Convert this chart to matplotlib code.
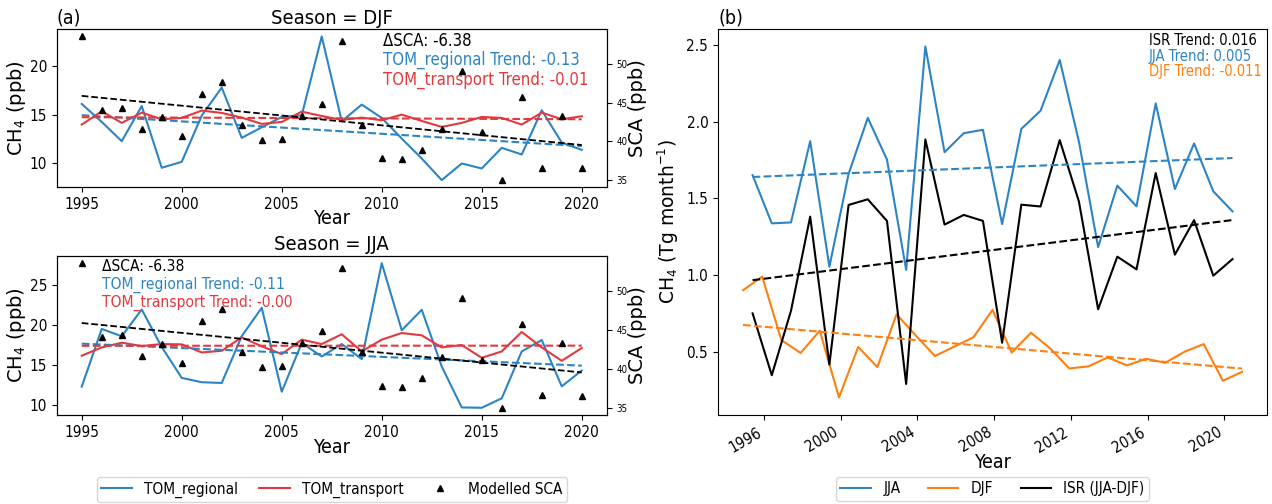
import numpy as np
import matplotlib.pyplot as plt

plt.rcParams['font.family'] = ['DejaVu Sans']
plt.rcParams['font.stretch'] = 'condensed'

# ---- data ----
years = np.arange(1995, 2021)

# panel (a), DJF
djf_regional = [16.09, 14.25, 12.28, 15.88, 9.56, 10.17, 14.9, 17.76, 12.62, 13.7,
                14.76, 14.93, 22.99, 14.32, 16.02, 14.66, 12.55, 10.51, 8.30, 10.0,
                9.49, 11.6, 10.92, 15.44, 12.14, 11.39]
djf_transport = [13.98, 15.34, 14.15, 15.2, 14.52, 14.66, 15.41, 15.17, 14.69, 14.05,
                 14.25, 15.3, 14.86, 14.45, 14.69, 14.42, 15.0, 14.35, 13.74, 14.15,
                 14.76, 14.66, 13.98, 15.2, 14.52, 14.83]
# panel (a), JJA
jja_regional = [12.29, 19.5, 18.58, 21.93, 17.24, 13.38, 12.84, 12.75, 18.6, 22.14,
                11.66, 17.74, 16.06, 17.61, 15.73, 27.71, 19.33, 21.89, 14.8, 9.69,
                9.65, 10.83, 16.69, 18.11, 12.33, 14.3]
jja_transport = [16.15, 17.19, 17.78, 17.36, 17.61, 17.57, 16.56, 16.77, 18.45, 17.32,
                 16.36, 18.16, 17.61, 18.83, 16.69, 18.16, 18.99, 18.7, 17.19, 17.49,
                 15.89, 16.69, 19.12, 17.19, 15.52, 17.11]
# modelled SCA (same for both seasons)
sca = [53.53, 44.05, 44.31, 41.6, 43.15, 40.69, 46.08, 47.67, 42.11, 40.22,
       40.34, 43.28, 44.78, 52.97, 42.11, 37.8, 37.67, 38.84, 41.55, 49.09,
       41.16, 35.0, 45.73, 36.6, 43.28, 36.51]

# panel (b), Tg month-1
jja_flux = [1.651, 1.337, 1.343, 1.873, 1.054, 1.659, 2.025, 1.753, 1.034, 2.49,
            1.801, 1.925, 1.947, 1.332, 1.953, 2.071, 2.402, 1.87, 1.182, 1.583,
            1.448, 2.119, 1.561, 1.858, 1.546, 1.415]
# DJF seasons start in December of the previous year (Dec 1994 ... Dec 2020)
djf_flux = [0.901, 0.990, 0.576, 0.492, 0.637, 0.202, 0.531, 0.400, 0.744, 0.606,
            0.472, 0.533, 0.594, 0.773, 0.494, 0.624, 0.522, 0.391, 0.405, 0.463,
            0.411, 0.454, 0.428, 0.500, 0.550, 0.311, 0.369]
djf_years = np.arange(1995, 2022)

blue = '#2c84c4'
red = '#e2393e'
orange = '#ff7f0e'


def trend(x, y):
    p = np.polyfit(x, y, 1)
    return np.polyval(p, x)


fig = plt.figure(figsize=(12.72, 5.04), dpi=100)
ax_djf = fig.add_axes([0.0446, 0.6284, 0.4324, 0.3135])
ax_jja = fig.add_axes([0.0446, 0.1766, 0.4324, 0.3155])
ax_b = fig.add_axes([0.5645, 0.1766, 0.4316, 0.7659])


def season_panel(ax, regional, transport, season, txt_x, txt_y, txt, xpad, tsize):
    ax.plot(years, regional, color=blue, lw=1.5, label='TOM_regional')
    ax.plot(years, transport, color=red, lw=1.5, label='TOM_transport')
    ax.plot(years, trend(years, regional), '--', color=blue, lw=1.5)
    ax.plot(years, trend(years, transport), '--', color=red, lw=1.5)
    ax2 = ax.twinx()
    ax2.plot(years, sca, '^', color='k', ms=4.5, ls='none', label='Modelled SCA')
    ax2.plot(years, trend(years, sca), '--', color='k', lw=1.3)
    ax.set_xticks([1995, 2000, 2005, 2010, 2015, 2020])
    ax.tick_params(labelsize=11)
    ax2.tick_params(labelsize=7)
    ax.set_xlabel('Year', fontsize=14, labelpad=xpad)
    ax.set_ylabel('CH$_4$ (ppb)', fontsize=14, fontstretch='normal', labelpad=1)
    ax2.set_ylabel('SCA (ppb)', fontsize=14, fontstretch='normal', labelpad=0)
    ax.set_title('Season = ' + season, fontsize=14.5, pad=4)
    for (s, c), y in zip(zip(txt, ['k', blue, red]), txt_y):
        ax.text(txt_x, y, s, color=c, fontsize=tsize, ha='left', va='center',
                transform=ax.transAxes)
    return ax2


season_panel(ax_djf, djf_regional, djf_transport, 'DJF', 0.593, [0.926, 0.806, 0.679],
             ['ΔSCA: -6.38', 'TOM_regional Trend: -0.13', 'TOM_transport Trend: -0.01'], -2, 12)
ax_djf.set_title('(a)', loc='left', fontsize=14, pad=4)
ax2_jja = season_panel(ax_jja, jja_regional, jja_transport, 'JJA', 0.082, [0.931, 0.818, 0.704],
                       ['ΔSCA: -6.38', 'TOM_regional Trend: -0.11', 'TOM_transport Trend: -0.00'],
                       -1, 11.2)

h1, l1 = ax_jja.get_legend_handles_labels()
h2, l2 = ax2_jja.get_legend_handles_labels()
ax_jja.legend(h1 + h2, l1 + l2, loc='upper center', bbox_to_anchor=(0.5, -0.39),
              ncol=3, fontsize=11, borderaxespad=0, borderpad=0.3, columnspacing=1.4)

# ---- panel (b) ----
jja_x = years + 5 / 12
djf_x = djf_years - 1 + 11 / 12
isr = np.array(jja_flux) - np.array(djf_flux[:len(jja_flux)])

ax_b.plot(jja_x, jja_flux, color=blue, lw=1.5, label='JJA')
ax_b.plot(djf_x, djf_flux, color=orange, lw=1.5, label='DJF')
ax_b.plot(jja_x, isr, color='k', lw=1.5, label='ISR (JJA-DJF)')
ax_b.plot(jja_x, trend(jja_x, jja_flux), '--', color=blue, lw=1.5)
ax_b.plot(djf_x, trend(djf_x, djf_flux), '--', color=orange, lw=1.5)
ax_b.plot(jja_x, trend(jja_x, isr), '--', color='k', lw=1.5)

ax_b.set_xticks(range(1996, 2021, 4))
ax_b.tick_params(labelsize=11)
plt.setp(ax_b.get_xticklabels(), rotation=30, ha='right')
ax_b.set_xlabel('Year', fontsize=14, labelpad=-1.5)
ax_b.set_ylabel('CH$_4$ (Tg month$^{-1}$)', fontsize=13.5, fontstretch='normal')
ax_b.set_title('(b)', loc='left', fontsize=14, pad=4)
for s, c, y in zip(['ISR Trend: 0.016', 'JJA Trend: 0.005', 'DJF Trend: -0.011'],
                   ['k', blue, orange], [0.970, 0.930, 0.889]):
    ax_b.text(0.7845, y, s, color=c, fontsize=10.5, ha='left', va='center',
              transform=ax_b.transAxes)
ax_b.legend(loc='upper center', bbox_to_anchor=(0.5, -0.16), ncol=3, fontsize=11,
            borderaxespad=0, borderpad=0.3, columnspacing=1.8)

fig.savefig('out.png', dpi=100)
